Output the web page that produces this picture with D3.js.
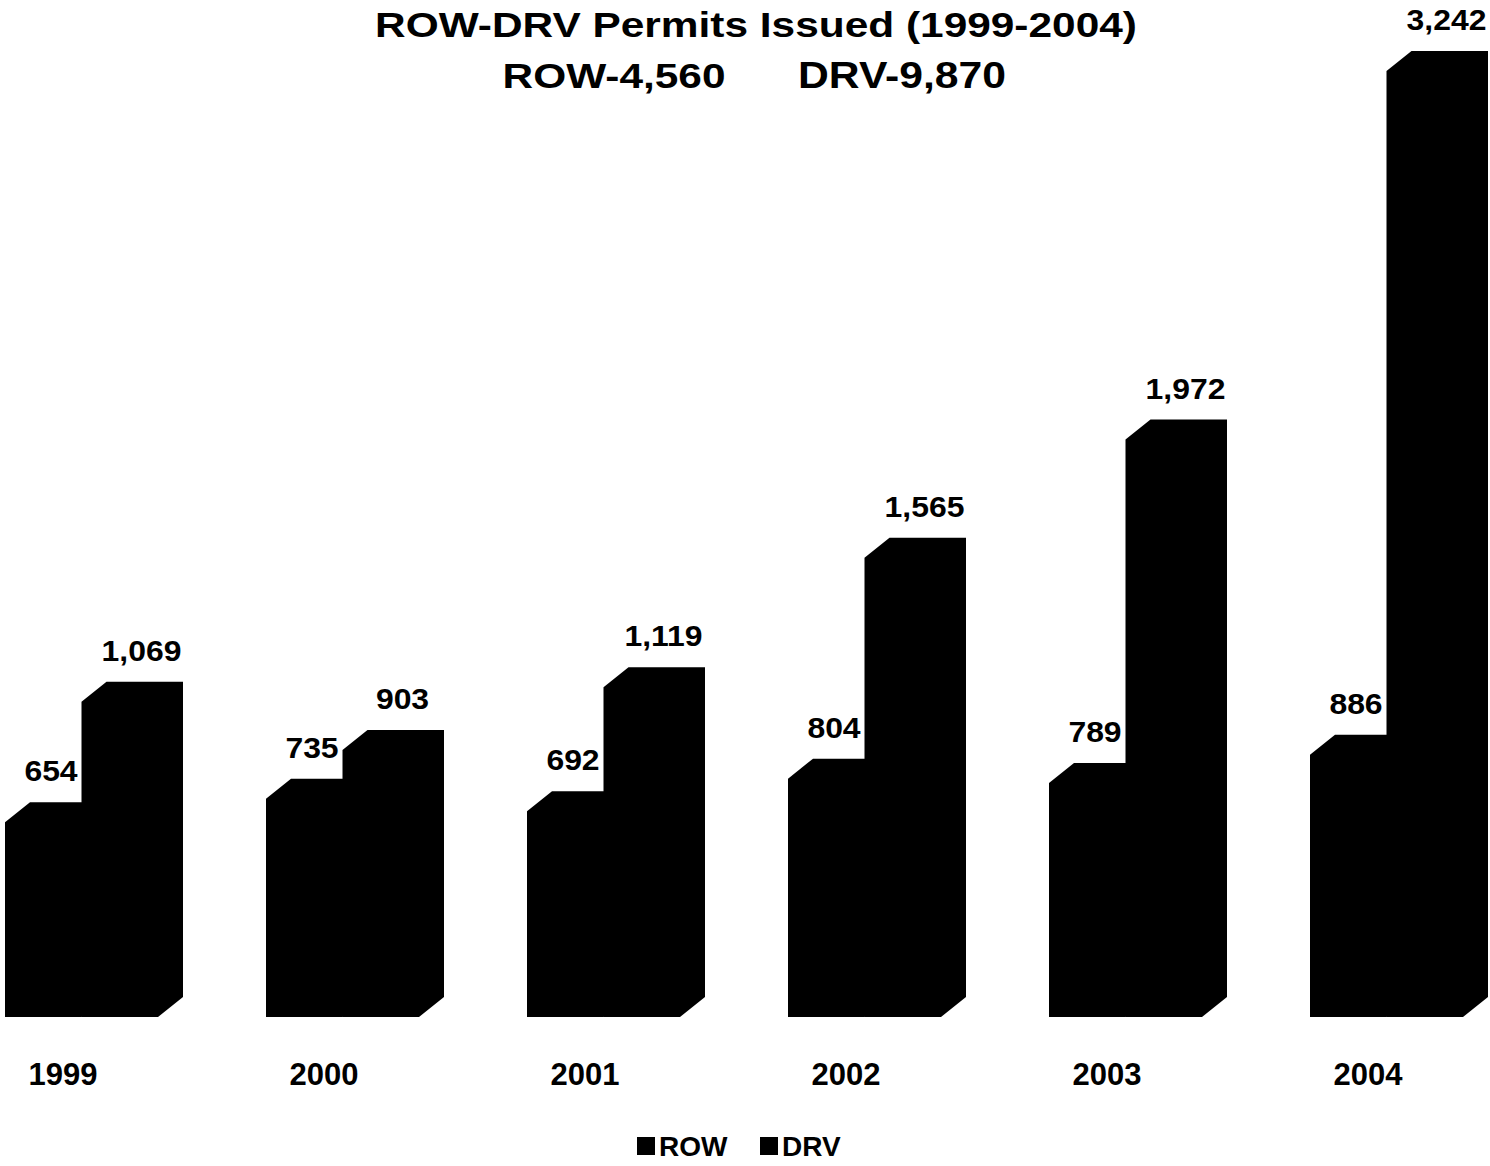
<!DOCTYPE html>
<html>
<head>
<meta charset="utf-8">
<script src="https://cdn.jsdelivr.net/npm/d3@7"></script>
<style>
  body { margin: 0; background: #fff; }
  text { font-family: "Liberation Sans", Arial, sans-serif; font-weight: bold; fill: #000; }
</style>
</head>
<body>
<script>
// data
var years = ["1999", "2000", "2001", "2002", "2003", "2004"];
var series = ["ROW", "DRV"];
var rowValues = [654, 735, 692, 804, 789, 886];
var drvValues = [1069, 903, 1119, 1565, 1972, 3242];
var titleLine1 = "ROW-DRV Permits Issued (1999-2004)";
var titleLine2a = "ROW-4,560";
var titleLine2b = "DRV-9,870";

var width = 1490, height = 1166;
var depthX = 25, depthY = 20;   // 3d offset of the bars
var floorY = 1017;

var svg = d3.select("body").append("svg")
    .attr("width", width)
    .attr("height", height);

// scales
var x0 = d3.scaleBand()
    .domain(years)
    .range([5, 5 + 5 * 261 + 153])
    .paddingInner(108 / 261)
    .paddingOuter(0);

var x1 = d3.scaleBand()
    .domain(series)
    .range([0, x0.bandwidth()]);

var y = d3.scaleLinear()
    .domain([0, 3242])
    .range([1012, 71]);

var fmt = d3.format(",");

var rows = years.map(function(yr, i) {
  return { year: yr, vals: [
    { key: "ROW", value: rowValues[i], year: yr },
    { key: "DRV", value: drvValues[i], year: yr }
  ]};
});

// bars - one black silhouette per bar (front + top + side)
function barPath(d) {
  var xl = x0(d.year) + x1(d.key);
  var xr = xl + x1.bandwidth();
  var yt = y(d.value);
  return "M" + xl + "," + yt +
    "L" + (xl + depthX) + "," + (yt - depthY) +
    "L" + (xr + depthX) + "," + (yt - depthY) +
    "L" + (xr + depthX) + "," + (floorY - depthY) +
    "L" + xr + "," + floorY +
    "L" + xl + "," + floorY + "Z";
}

var groups = svg.selectAll("g.year")
    .data(rows)
    .enter()
    .append("g")
    .attr("class", "year");

groups.selectAll("path")
    .data(function(r) { return r.vals; })
    .enter()
    .append("path")
    .attr("d", barPath)
    .style("fill", "#000");

// value labels (font in the original is a bit wider, so stretch a little)
groups.selectAll("text.val")
    .data(function(r) { return r.vals; })
    .enter()
    .append("text")
    .attr("class", "val")
    .attr("transform", function(d) {
      var cx = x0(d.year) + (d.key === "ROW" ? 46 : x1.bandwidth() + 60);
      var cy = y(d.value) - depthY - 21;
      return "translate(" + cx + "," + cy + ") scale(1.1,1)";
    })
    .attr("text-anchor", "middle")
    .style("font-size", "29px")
    .text(function(d) { return fmt(d.value); });

// category labels
svg.selectAll("text.cat")
    .data(years)
    .enter()
    .append("text")
    .attr("class", "cat")
    .attr("x", function(d) { return x0(d) + 58; })
    .attr("y", 1085)
    .attr("text-anchor", "middle")
    .style("font-size", "31px")
    .text(function(d) { return d; });

// title - stretch glyphs horizontally to the width of the original
function titleText(str, cx, cy, w) {
  var t = svg.append("text")
      .attr("text-anchor", "middle")
      .style("font-size", "36px")
      .text(str);
  var natural = t.node().getComputedTextLength();
  t.attr("transform", "translate(" + cx + "," + cy + ") scale(" + (w / natural) + ",1)");
}
titleText(titleLine1, 756, 37, 762);
titleText(titleLine2a, 614, 88, 223);
titleText(titleLine2b, 902, 88, 208);

// legend
var legend = svg.append("g").attr("transform", "translate(637,1137)");
var legX = [0, 123];
series.forEach(function(s, i) {
  legend.append("rect")
      .attr("x", legX[i])
      .attr("y", 0)
      .attr("width", 18)
      .attr("height", 18)
      .style("fill", "#000");
  legend.append("text")
      .attr("x", legX[i] + 22)
      .attr("y", 19)
      .style("font-size", "28px")
      .text(s);
});
</script>
</body>
</html>
